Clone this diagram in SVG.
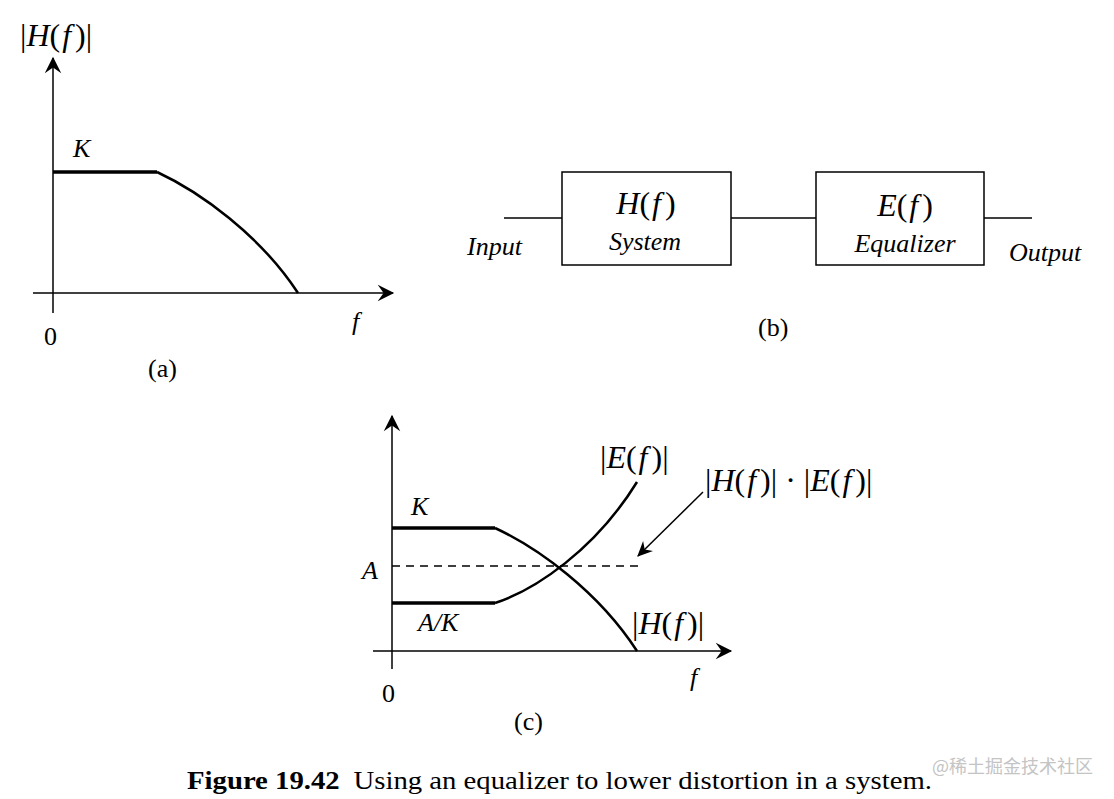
<svg xmlns="http://www.w3.org/2000/svg" width="1114" height="799" viewBox="0 0 1114 799">
<style>
text{font-family:"Liberation Serif","Times New Roman",serif;fill:#000}
.i{font-style:italic}
.m{font-size:32px}
.l{font-size:26px}
.ax{stroke:#000;stroke-width:1.5;fill:none}
.thick{stroke:#000;stroke-width:3.5;fill:none}
.cv{stroke:#000;stroke-width:2.5;fill:none}
.box{stroke:#000;stroke-width:1.5;fill:#fff}
.wire{stroke:#000;stroke-width:1.5;fill:none}
</style>
<defs>
<marker id="ah" markerUnits="userSpaceOnUse" markerWidth="20" markerHeight="20" viewBox="-15 -8 17 16" refX="0" refY="0" orient="auto">
<path d="M1,0 L-13,-7 L-8,0 L-13,7 Z" fill="#000"/>
</marker>
<marker id="ah2" markerUnits="userSpaceOnUse" markerWidth="20" markerHeight="20" viewBox="-15 -8 17 16" refX="0" refY="0" orient="auto">
<path d="M1,0 L-12,-6 L-8,0 L-12,6 Z" fill="#000"/>
</marker>
</defs>
<rect width="1114" height="799" fill="#fff"/>

<g id="panel-a">
<line class="ax" x1="53" y1="313" x2="53" y2="58" marker-end="url(#ah)"/>
<line class="ax" x1="33" y1="293" x2="393" y2="293" marker-end="url(#ah)"/>
<line class="thick" x1="53" y1="172" x2="157" y2="172"/>
<path class="cv" d="M157,172 C200,192 260,235 298,293"/>
<text class="m" x="20" y="46">|<tspan class="i">H</tspan>(<tspan class="i" dx="2">f</tspan><tspan dx="4">)|</tspan></text>
<text class="l i" x="73" y="157">K</text>
<text class="l" x="44" y="345">0</text>
<text class="l i" x="352" y="330">f</text>
<text class="l" x="148" y="377">(a)</text>
</g>

<g id="connectors">
<line class="wire" x1="504" y1="218" x2="562" y2="218"/>
<line class="wire" x1="731" y1="218" x2="816" y2="218"/>
<line class="wire" x1="984" y1="218" x2="1032" y2="218"/>
</g>

<g id="node-system">
<rect class="box" x="562" y="172" width="169" height="93"/>
<text class="m" x="646" y="214" text-anchor="middle"><tspan class="i">H</tspan>(<tspan class="i" dx="2">f</tspan><tspan dx="4">)</tspan></text>
<text class="l i" x="645" y="250" text-anchor="middle">System</text>
</g>

<g id="node-equalizer">
<rect class="box" x="816" y="172" width="168" height="93"/>
<text class="m" x="905" y="216" text-anchor="middle"><tspan class="i">E</tspan>(<tspan class="i" dx="2">f</tspan><tspan dx="4">)</tspan></text>
<text class="l i" x="905" y="252" text-anchor="middle">Equalizer</text>
</g>

<g id="labels-b">
<text class="l i" x="467" y="255">Input</text>
<text class="l i" x="1009" y="261">Output</text>
<text class="l" x="758" y="336">(b)</text>
</g>

<g id="panel-c">
<line class="ax" x1="392" y1="669" x2="392" y2="416" marker-end="url(#ah)"/>
<line class="ax" x1="373" y1="651" x2="731" y2="651" marker-end="url(#ah)"/>
<line class="thick" x1="392" y1="528" x2="495" y2="528"/>
<line class="thick" x1="392" y1="603" x2="495" y2="603"/>
<line x1="392" y1="566" x2="638" y2="566" stroke="#000" stroke-width="1.5" stroke-dasharray="8,6"/>
<path class="cv" d="M495,528 C538,548 598,591 637,651"/>
<path class="cv" d="M495,603 C535,590 595,550 637,482"/>
<line x1="703" y1="492" x2="638" y2="556" stroke="#000" stroke-width="1.5" marker-end="url(#ah2)"/>
<text class="l i" x="411" y="515">K</text>
<text class="l i" x="362" y="579">A</text>
<text class="l i" x="418" y="631">A/K</text>
<text class="l" x="382" y="702">0</text>
<text class="l i" x="690" y="686">f</text>
<text class="l" x="514" y="730">(c)</text>
<text class="m" x="600" y="468">|<tspan class="i">E</tspan>(<tspan class="i" dx="2">f</tspan><tspan dx="4">)|</tspan></text>
<text class="m" x="705" y="491">|<tspan class="i">H</tspan>(<tspan class="i" dx="2">f</tspan><tspan dx="4">)|</tspan><tspan dx="8">·</tspan><tspan dx="8">|</tspan><tspan class="i">E</tspan>(<tspan class="i" dx="2">f</tspan><tspan dx="4">)|</tspan></text>
<text class="m" x="632" y="634">|<tspan class="i">H</tspan>(<tspan class="i" dx="2">f</tspan><tspan dx="4">)|</tspan></text>
</g>

<g id="caption">
<text x="187" y="789" font-size="25" textLength="745" lengthAdjust="spacingAndGlyphs"><tspan font-weight="bold">Figure 19.42</tspan><tspan dx="12">Using an equalizer to lower distortion in a system.</tspan></text>
<text x="932" y="773" font-size="18" style="font-family:'Noto Sans CJK SC','Liberation Sans',sans-serif;fill:#c4c4c4">@稀土掘金技术社区</text>
</g>
</svg>
